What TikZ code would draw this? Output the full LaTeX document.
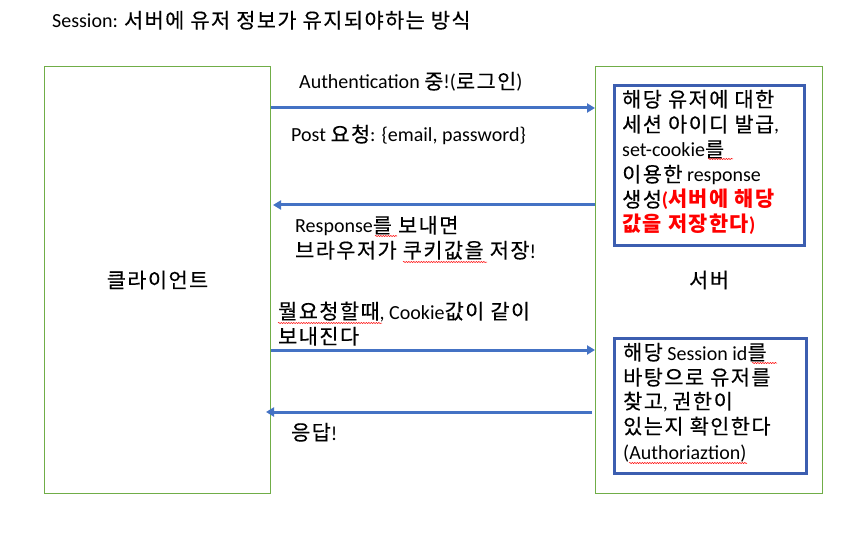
\documentclass[tikz,border=0pt]{standalone}
\usepackage{fontspec}
\setmainfont{Carlito}
\newfontfamily\kr[Scale=1.04, LetterSpace=7, FakeBold=0.3]{Noto Sans CJK KR}
\newfontfamily\krb[Scale=1.04, LetterSpace=7]{Noto Sans CJK KR}
\usetikzlibrary{arrows.meta,decorations.pathmorphing}
\definecolor{grn}{HTML}{70AD47}
\definecolor{blu}{HTML}{4472C4}
\definecolor{bbox}{HTML}{3C5EB0}
\newcommand\K[1]{{\kr #1}}
\newcommand\KB[1]{{\krb\bfseries #1}}
\begin{document}
\begin{tikzpicture}[x=1pt,y=-1pt,
 txt/.style={anchor=base west, inner sep=0pt, font=\fontsize{20}{24}\selectfont},
 lbl/.style={inner sep=0pt, font=\fontsize{20}{24}\selectfont},
 greenbox/.style={draw=grn, line width=1pt, anchor=north west, inner sep=0pt},
 bluebox/.style={draw=bbox, line width=3pt, anchor=north west, inner sep=0pt},
 msg/.style={draw=blu, line width=3pt, -{Triangle[length=8pt,width=9pt]}},
 squig/.style={draw=red, line width=0.5pt, decorate, decoration={snake, amplitude=0.6pt, segment length=2.5pt}}]
\useasboundingbox (0,0) rectangle (866,545);
\fill[white] (0,0) rectangle (866,545);

\node[txt] (title) at (52,28) {Session: \K{서버에 유저 정보가 유지되야하는 방식}};

\node[greenbox, minimum width=226pt, minimum height=427pt] (client) at (44,66) {};
\node[greenbox, minimum width=227pt, minimum height=427pt] (server) at (595,66) {};
\node[lbl] (clientlbl) at (client.center) {\K{클라이언트}};
\node[lbl] (serverlbl) at (server.center) {\K{서버}};

\node[bluebox, minimum width=190pt, minimum height=160pt] (box1) at (613,84) {};
\node[bluebox, minimum width=192pt, minimum height=135pt] (box2) at (613,337) {};

\coordinate (y1) at (0,108);
\coordinate (y2) at (0,205);
\coordinate (y3) at (0,350);
\coordinate (y4) at (0,412);
\draw[msg] (client.east |- y1) -- (server.west |- y1);
\draw[msg] (server.west |- y2) -- ([xshift=2pt]client.east |- y2);
\draw[msg] (client.east |- y3) -- (server.west |- y3);
\draw[msg] ([xshift=-3pt]server.west |- y4) -- ([xshift=-5pt]client.east |- y4);

\node[txt] (m1) at (299,89) {Authentication \K{중}!(\K{로그인})};
\node[txt] (m2) at (291,142) {Post \K{요청}: \{email, password\}};
\node[txt] (m3a) at (295,233) {Response\K{를 보내면}};
\node[txt] (m3b) at (295,258) {\K{브라우저가 쿠키값을 저장}!};
\node[txt] (m4a) at (278,319) {\K{뭘요청할때}, Cookie\K{값이 같이}};
\node[txt] (m4b) at (278,344) {\K{보내진다}};
\node[txt] (m5) at (291,440) {\K{응답}!};

\node[txt] (a1) at (622,107) {\K{해당 유저에 대한}};
\node[txt] (a2) at (622,132) {\K{세션 아이디 발급},};
\node[txt] (a3) at (622,157) {set-cookie\K{를}};
\node[txt] (a4) at (622,182) {\K{이용한} response};
\node[txt] (a5) at (622,207) {\K{생성}\textcolor{red}{\bfseries(\KB{서버에 해당}}};
\node[txt] (a6) at (622,231) {\textcolor{red}{\bfseries\KB{값을 저장한다})}};

\node[txt] (b1) at (623,360) {\K{해당} Session id\K{를}};
\node[txt] (b2) at (623,385) {\K{바탕으로 유저를}};
\node[txt] (b3) at (623,409) {\K{찾고}, \K{권한이}};
\node[txt] (b4) at (623,434) {\K{있는지 확인한다}};
\node[txt] (b5) at (623,459) {(Authoriaztion)};

\draw[squig] (375,236) -- (397,236);
\draw[squig] (403,262) -- (487,262);
\draw[squig] (278,323) -- (382,323);
\draw[squig] (708,159) -- (733,159);
\draw[squig] (752,363) -- (777,363);
\draw[squig] (629,463) -- (747,463);
\end{tikzpicture}
\end{document}
